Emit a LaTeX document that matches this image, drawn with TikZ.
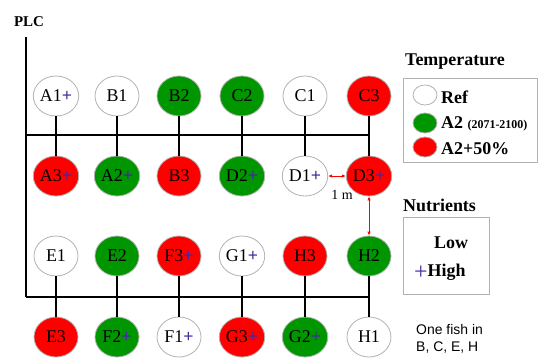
\documentclass[tikz,border=0pt]{standalone}
\usepackage{fontspec}
\setmainfont{Liberation Serif}
\newfontfamily\fishfont{Liberation Sans}
\usetikzlibrary{shapes.geometric,arrows.meta}
\definecolor{nutblue}{RGB}{70,40,160}
\definecolor{warmgreen}{RGB}{0,150,0}
\definecolor{hotred}{RGB}{255,0,0}
\newcommand{\nut}{\textcolor{nutblue}{\textbf{+}}}

\begin{document}
\begin{tikzpicture}[x=1bp,y=-1bp,
  tank/.style={ellipse,draw=gray!60,line width=0.8bp,minimum width=44bp,minimum height=40bp,inner sep=0pt,font=\fontsize{18}{18}\selectfont},
  reftank/.style={tank,fill=white},
  a2tank/.style={tank,fill=warmgreen},
  hottank/.style={tank,fill=hotred},
  pipe/.style={line width=2bp},
  stem/.style={line width=1.2bp},
  gap/.style={hotred,line width=0.8bp,{Latex[length=4bp,width=3.5bp]}-{Latex[length=4bp,width=3.5bp]}},
  keytext/.style={anchor=west,inner sep=0pt,font=\bfseries\fontsize{18}{18}\selectfont},
  keydot/.style={ellipse,draw=gray!60,line width=0.8bp,minimum width=24bp,minimum height=20bp,inner sep=0pt}]
\useasboundingbox (0,0) rectangle (540,358);

\node[inner sep=0pt,font=\bfseries\fontsize{15}{15}\selectfont] (plc) at (29,22) {PLC};

\coordinate (P1) at (26,37);

\coordinate (P2) at (26,135);

\coordinate (P3) at (26,297);

\coordinate (Q1) at (369,135);

\coordinate (Q2) at (369,297);

\draw[line width=2.5bp] (P1) -- (P3);

\draw[pipe] (P2) -- (Q1);

\draw[pipe] (P3) -- (Q2);

% upper row of tanks
\node[reftank] (A1) at (56,96) {A1\nut};

\node[reftank] (B1) at (117,96) {B1};

\node[a2tank] (B2) at (179,96) {B2};

\node[a2tank] (C2) at (242,96) {C2};

\node[reftank] (C1) at (305,96) {C1};

\node[hottank] (C3) at (369,96) {C3};

\node[hottank] (A3) at (56,176) {A3\nut};

\node[a2tank] (A2) at (117,176) {A2\nut};

\node[hottank] (B3) at (179,176) {B3};

\node[a2tank] (D2) at (242,176) {D2\nut};

\node[reftank] (D1) at (305,176) {D1\nut};

\node[hottank] (D3) at (369,176) {D3\nut};

% lower row of tanks
\node[reftank] (E1) at (56,256) {E1};

\node[a2tank] (E2) at (117,256) {E2};

\node[hottank] (F3) at (179,256) {F3\nut};

\node[reftank] (G1) at (242,256) {G1\nut};

\node[hottank] (H3) at (305,256) {H3};

\node[a2tank] (H2) at (369,256) {H2};

\node[hottank] (E3) at (56,337) {E3};

\node[a2tank] (F2) at (117,337) {F2\nut};

\node[reftank] (F1) at (179,337) {F1\nut};

\node[hottank] (G3) at (242,337) {G3\nut};

\node[a2tank] (G2) at (305,337) {G2\nut};

\node[reftank] (H1) at (369,337) {H1};

\draw[stem] (A1) -- (A3);

\draw[stem] (B1) -- (A2);

\draw[stem] (B2) -- (B3);

\draw[stem] (C2) -- (D2);

\draw[stem] (C1) -- (D1);

\draw[stem] (C3) -- (D3);

\draw[stem] (E1) -- (E3);

\draw[stem] (E2) -- (F2);

\draw[stem] (F3) -- (F1);

\draw[stem] (G1) -- (G3);

\draw[stem] (H3) -- (G2);

\draw[stem] (H2) -- (H1);

% spacing
\draw[gap] (D1) -- (D3);

\draw[gap] (D3) -- (H2);

\node[font=\fontsize{14}{14}\selectfont] (dist) at (342,195) {1 m};

% temperature key
\node[keytext] (temp) at (405,62) {Temperature};

\node[draw=gray!60,line width=0.8bp,minimum width=134bp,minimum height=84bp,inner sep=0pt] (tbox) at (470,120) {};

\node[keydot,fill=white] (T1) at (425,95) {};

\node[keydot,fill=warmgreen] (T2) at (425,123) {};

\node[keydot,fill=hotred] (T3) at (425,147) {};

\node[keytext] (L1) at (441,97) {Ref};

\node[keytext] (L2) at (441,124) {A2 {\fontsize{12}{12}\selectfont(2071-2100)}};

\node[keytext] (L3) at (441,149) {A2+50\%};

% nutrient key
\node[keytext] (nutr) at (403,205) {Nutrients};

\node[draw=gray!60,line width=0.8bp,minimum width=86bp,minimum height=77bp,inner sep=0pt] (nbox) at (446,256) {};

\node[keytext] (low) at (434,243) {Low};

\node[keytext] (high) at (414,272) {\raisebox{-3bp}{\mdseries\fontsize{24}{24}\selectfont\textcolor{nutblue}{+}}High};

\node[anchor=west,inner sep=0pt,align=left,font=\fishfont\fontsize{14}{17}\selectfont] (fish) at (416,339) {One fish in\\B, C, E, H};

\end{tikzpicture}
\end{document}
